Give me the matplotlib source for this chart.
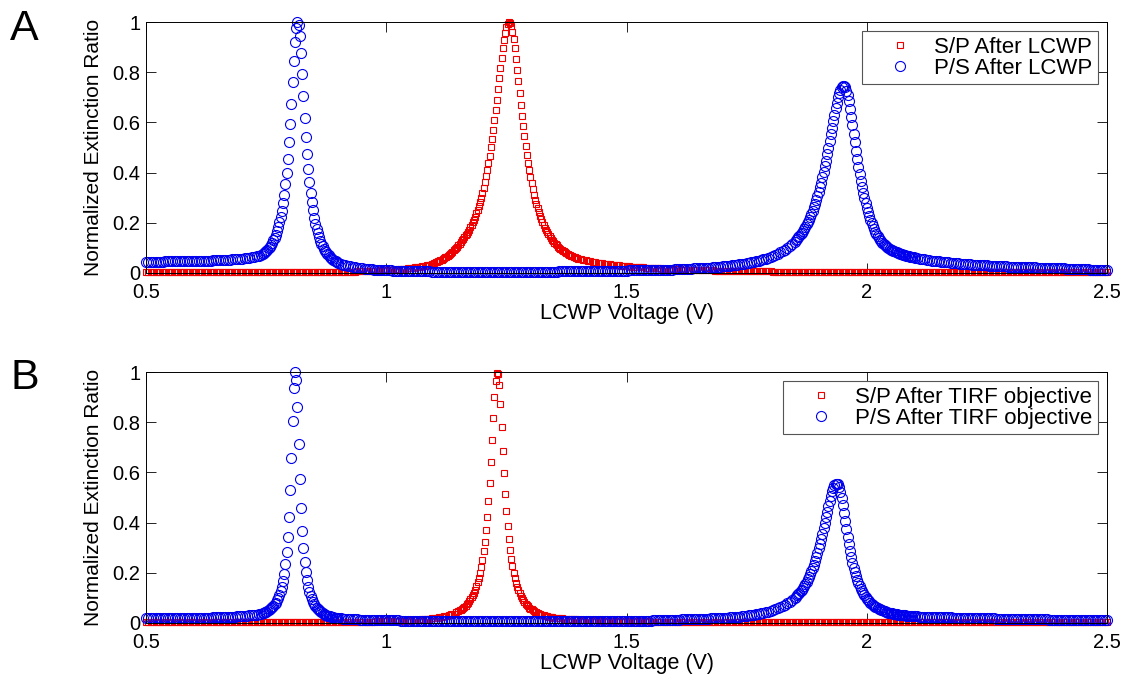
import numpy as np
import matplotlib
matplotlib.use("Agg")
import matplotlib.pyplot as plt

plt.rcParams['font.family'] = ['Liberation Sans', 'DejaVu Sans']

# ---------------- data ----------------
x_ticks = [0.5, 1, 1.5, 2, 2.5]
x_tick_labels = ['0.5', '1', '1.5', '2', '2.5']
y_ticks = [0, 0.2, 0.4, 0.6, 0.8, 1]
y_tick_labels = ['0', '0.2', '0.4', '0.6', '0.8', '1']

labels_a = ['S/P After LCWP', 'P/S After LCWP']
labels_b = ['S/P After TIRF objective', 'P/S After TIRF objective']

# voltage sweep segments (start V, step V)
ps_sweep = [(0.50, 0.005), (0.74, 0.0025), (0.90, 0.005), (1.85, 0.0025), (2.10, 0.005)]
sp_a_sweep = [(0.50, 0.005), (1.10, 0.0025), (1.40, 0.005)]
sp_b_sweep = [(0.50, 0.005), (1.15, 0.0025), (1.35, 0.005)]

# ---- Panel A, P/S after LCWP ----
ps_a_1 = [0.045, 0.045, 0.045, 0.045, 0.045, 0.045, 0.045, 0.045, 0.046, 0.046,
          0.046, 0.046, 0.046, 0.046, 0.047, 0.047, 0.047, 0.047, 0.047, 0.047,
          0.048, 0.048, 0.048, 0.048, 0.049, 0.049, 0.049, 0.049, 0.050, 0.050,
          0.051, 0.051, 0.052, 0.052, 0.053, 0.053, 0.054, 0.054, 0.055, 0.056,
          0.057, 0.058, 0.059, 0.060, 0.062, 0.064, 0.066, 0.069]
ps_a_2 = [0.072, 0.075, 0.079, 0.083, 0.088, 0.093, 0.099, 0.105, 0.113, 0.121,
          0.130, 0.141, 0.153, 0.167, 0.183, 0.202, 0.224, 0.248, 0.278, 0.312,
          0.353, 0.400, 0.456, 0.520, 0.593, 0.674, 0.761, 0.846, 0.922, 0.977,
          1.000, 0.988, 0.944, 0.875, 0.791, 0.704, 0.619, 0.542, 0.474, 0.414,
          0.363, 0.320, 0.282, 0.250, 0.220, 0.196, 0.176, 0.158, 0.142, 0.129,
          0.117, 0.106, 0.097, 0.089, 0.082, 0.076, 0.070, 0.065, 0.060, 0.056,
          0.052, 0.049, 0.046, 0.043]
ps_a_3 = [0.040, 0.036, 0.033, 0.030, 0.028, 0.026, 0.024, 0.022, 0.021, 0.019,
          0.018, 0.017, 0.016, 0.015, 0.014, 0.013, 0.013, 0.012, 0.012, 0.011,
          0.011, 0.010, 0.010, 0.009, 0.009, 0.009, 0.008, 0.008, 0.008, 0.007,
          0.007, 0.007, 0.007, 0.006, 0.006, 0.006, 0.006, 0.006, 0.006, 0.005,
          0.005, 0.005, 0.004, 0.004, 0.004, 0.004, 0.004, 0.004, 0.004, 0.004,
          0.004, 0.004, 0.004, 0.004, 0.004, 0.004, 0.004, 0.004, 0.004, 0.004,
          0.004, 0.004, 0.004, 0.004, 0.004, 0.004, 0.004, 0.004, 0.004, 0.004,
          0.004, 0.004, 0.004, 0.004, 0.004, 0.004, 0.004, 0.004, 0.004, 0.004,
          0.004, 0.004, 0.005, 0.005, 0.005, 0.005, 0.005, 0.005, 0.005, 0.005,
          0.005, 0.005, 0.006, 0.006, 0.006, 0.006, 0.006, 0.006, 0.006, 0.006,
          0.007, 0.007, 0.007, 0.007, 0.007, 0.007, 0.007, 0.007, 0.008, 0.008,
          0.008, 0.008, 0.008, 0.008, 0.008, 0.008, 0.009, 0.009, 0.009, 0.009,
          0.009, 0.010, 0.010, 0.010, 0.010, 0.010, 0.010, 0.010, 0.011, 0.011,
          0.011, 0.011, 0.012, 0.012, 0.012, 0.012, 0.013, 0.013, 0.013, 0.013,
          0.014, 0.014, 0.015, 0.015, 0.016, 0.016, 0.017, 0.017, 0.018, 0.018,
          0.019, 0.019, 0.020, 0.020, 0.021, 0.021, 0.022, 0.023, 0.024, 0.025,
          0.026, 0.027, 0.028, 0.029, 0.030, 0.031, 0.033, 0.034, 0.036, 0.037,
          0.039, 0.041, 0.043, 0.045, 0.047, 0.049, 0.052, 0.054, 0.057, 0.060,
          0.064, 0.068, 0.072, 0.077, 0.082, 0.087, 0.093, 0.100, 0.108, 0.116]
ps_a_4 = [0.125, 0.131, 0.136, 0.142, 0.148, 0.154, 0.161, 0.169, 0.176, 0.185,
          0.194, 0.203, 0.213, 0.224, 0.236, 0.248, 0.261, 0.275, 0.290, 0.306,
          0.323, 0.341, 0.360, 0.381, 0.402, 0.425, 0.448, 0.473, 0.499, 0.525,
          0.552, 0.579, 0.605, 0.631, 0.656, 0.679, 0.700, 0.717, 0.731, 0.741,
          0.745, 0.745, 0.740, 0.727, 0.708, 0.684, 0.655, 0.623, 0.589, 0.555,
          0.520, 0.487, 0.454, 0.424, 0.394, 0.367, 0.342, 0.319, 0.297, 0.277,
          0.259, 0.242, 0.226, 0.212, 0.199, 0.187, 0.176, 0.165, 0.156, 0.147,
          0.140, 0.133, 0.127, 0.121, 0.116, 0.111, 0.106, 0.103, 0.099, 0.095,
          0.093, 0.090, 0.088, 0.086, 0.084, 0.082, 0.080, 0.078, 0.076, 0.075,
          0.073, 0.072, 0.070, 0.069, 0.068, 0.066, 0.065, 0.064, 0.063, 0.062]
ps_a_5 = [0.060, 0.058, 0.057, 0.055, 0.054, 0.052, 0.051, 0.049, 0.048, 0.047,
          0.046, 0.045, 0.044, 0.043, 0.042, 0.041, 0.040, 0.039, 0.038, 0.037,
          0.036, 0.035, 0.035, 0.034, 0.033, 0.032, 0.032, 0.031, 0.031, 0.030,
          0.030, 0.029, 0.029, 0.028, 0.028, 0.027, 0.027, 0.026, 0.026, 0.025,
          0.025, 0.025, 0.025, 0.024, 0.024, 0.023, 0.023, 0.023, 0.023, 0.022,
          0.022, 0.021, 0.021, 0.021, 0.021, 0.020, 0.020, 0.019, 0.019, 0.019,
          0.019, 0.018, 0.018, 0.017, 0.017, 0.017, 0.017, 0.016, 0.016, 0.015,
          0.015, 0.014, 0.014, 0.013, 0.013, 0.012, 0.012, 0.011, 0.011, 0.010,
          0.010]

# ---- Panel A, S/P after LCWP ----
sp_a_1 = [0.002, 0.002, 0.002, 0.002, 0.002, 0.002, 0.002, 0.002, 0.002, 0.002,
          0.002, 0.002, 0.002, 0.002, 0.002, 0.002, 0.002, 0.002, 0.002, 0.002,
          0.002, 0.002, 0.002, 0.002, 0.002, 0.002, 0.002, 0.002, 0.002, 0.002,
          0.002, 0.002, 0.002, 0.002, 0.002, 0.002, 0.002, 0.002, 0.002, 0.002,
          0.002, 0.002, 0.002, 0.002, 0.002, 0.002, 0.002, 0.002, 0.002, 0.002,
          0.002, 0.002, 0.002, 0.002, 0.002, 0.002, 0.002, 0.002, 0.002, 0.002,
          0.002, 0.002, 0.002, 0.002, 0.002, 0.002, 0.002, 0.002, 0.002, 0.002,
          0.002, 0.002, 0.002, 0.002, 0.002, 0.002, 0.002, 0.002, 0.002, 0.002,
          0.004, 0.004, 0.004, 0.004, 0.005, 0.005, 0.005, 0.005, 0.006, 0.006,
          0.006, 0.006, 0.007, 0.007, 0.008, 0.008, 0.009, 0.009, 0.010, 0.010,
          0.011, 0.011, 0.012, 0.012, 0.013, 0.014, 0.015, 0.016, 0.017, 0.018,
          0.019, 0.020, 0.022, 0.023, 0.025, 0.026, 0.028, 0.030, 0.032, 0.036]
sp_a_2 = [0.041, 0.043, 0.045, 0.047, 0.049, 0.051, 0.053, 0.056, 0.059, 0.062,
          0.065, 0.068, 0.072, 0.076, 0.080, 0.085, 0.090, 0.095, 0.100, 0.105,
          0.111, 0.117, 0.123, 0.130, 0.137, 0.143, 0.150, 0.157, 0.165, 0.173,
          0.182, 0.192, 0.202, 0.213, 0.225, 0.238, 0.252, 0.267, 0.283, 0.300,
          0.319, 0.340, 0.362, 0.385, 0.411, 0.438, 0.468, 0.500, 0.534, 0.570,
          0.608, 0.648, 0.690, 0.732, 0.775, 0.817, 0.857, 0.895, 0.929, 0.958,
          0.980, 0.994, 1.000, 0.997, 0.984, 0.962, 0.931, 0.895, 0.854, 0.809,
          0.763, 0.717, 0.671, 0.627, 0.585, 0.545, 0.507, 0.472, 0.440, 0.410,
          0.382, 0.357, 0.333, 0.312, 0.292, 0.274, 0.257, 0.242, 0.227, 0.214,
          0.202, 0.191, 0.181, 0.171, 0.162, 0.154, 0.146, 0.139, 0.133, 0.126,
          0.121, 0.115, 0.110, 0.105, 0.101, 0.097, 0.093, 0.089, 0.086, 0.082,
          0.079, 0.076, 0.073, 0.071, 0.068, 0.066, 0.064, 0.062, 0.060, 0.058]
sp_a_3 = [0.056, 0.054, 0.052, 0.050, 0.048, 0.046, 0.044, 0.042, 0.041, 0.039,
          0.038, 0.036, 0.035, 0.034, 0.033, 0.032, 0.031, 0.030, 0.029, 0.028,
          0.027, 0.026, 0.025, 0.025, 0.024, 0.023, 0.022, 0.022, 0.021, 0.020,
          0.020, 0.019, 0.019, 0.018, 0.018, 0.017, 0.017, 0.016, 0.016, 0.015,
          0.015, 0.014, 0.014, 0.013, 0.013, 0.013, 0.013, 0.012, 0.012, 0.011,
          0.011, 0.011, 0.011, 0.010, 0.010, 0.010, 0.010, 0.009, 0.009, 0.009,
          0.009, 0.008, 0.008, 0.008, 0.008, 0.008, 0.008, 0.007, 0.007, 0.007,
          0.007, 0.007, 0.007, 0.006, 0.006, 0.006, 0.006, 0.006, 0.006, 0.006,
          0.006, 0.005, 0.005, 0.005, 0.005, 0.005, 0.005, 0.005, 0.005, 0.005,
          0.005, 0.005, 0.005, 0.005, 0.005, 0.005, 0.005, 0.005, 0.005, 0.005,
          0.005, 0.005, 0.004, 0.004, 0.004, 0.004, 0.004, 0.004, 0.004, 0.004,
          0.004, 0.004, 0.004, 0.004, 0.004, 0.004, 0.004, 0.004, 0.004, 0.004,
          0.004, 0.004, 0.004, 0.004, 0.004, 0.004, 0.004, 0.004, 0.004, 0.004,
          0.004, 0.004, 0.004, 0.004, 0.004, 0.004, 0.004, 0.004, 0.004, 0.004,
          0.004, 0.004, 0.003, 0.003, 0.003, 0.003, 0.003, 0.003, 0.003, 0.003,
          0.003, 0.003, 0.003, 0.003, 0.003, 0.003, 0.003, 0.003, 0.003, 0.003,
          0.003, 0.003, 0.003, 0.003, 0.003, 0.003, 0.003, 0.003, 0.003, 0.003,
          0.003, 0.003, 0.003, 0.003, 0.003, 0.003, 0.003, 0.003, 0.003, 0.003,
          0.003, 0.003, 0.003, 0.003, 0.003, 0.003, 0.003, 0.003, 0.003, 0.003,
          0.003, 0.003, 0.003, 0.003, 0.003, 0.003, 0.003, 0.003, 0.003, 0.003,
          0.003, 0.003, 0.003, 0.003, 0.003, 0.003, 0.003, 0.003, 0.003, 0.003,
          0.003, 0.003, 0.003, 0.003, 0.003, 0.003, 0.003, 0.003, 0.003, 0.003,
          0.003]

# ---- Panel B, P/S after TIRF objective ----
ps_b_1 = [0.020, 0.020, 0.020, 0.020, 0.020, 0.020, 0.020, 0.020, 0.020, 0.020,
          0.020, 0.020, 0.020, 0.020, 0.020, 0.020, 0.020, 0.020, 0.020, 0.020,
          0.020, 0.020, 0.020, 0.020, 0.021, 0.021, 0.021, 0.021, 0.022, 0.022,
          0.022, 0.022, 0.023, 0.023, 0.024, 0.024, 0.025, 0.025, 0.026, 0.026,
          0.027, 0.028, 0.029, 0.030, 0.031, 0.032, 0.033, 0.035]
ps_b_2 = [0.037, 0.039, 0.040, 0.043, 0.045, 0.048, 0.051, 0.054, 0.058, 0.063,
          0.068, 0.074, 0.081, 0.090, 0.100, 0.112, 0.127, 0.145, 0.168, 0.197,
          0.234, 0.281, 0.343, 0.424, 0.530, 0.659, 0.805, 0.935, 1.000, 0.970,
          0.859, 0.714, 0.575, 0.459, 0.368, 0.298, 0.244, 0.203, 0.171, 0.145,
          0.125, 0.109, 0.095, 0.084, 0.075, 0.067, 0.060, 0.055, 0.050, 0.046,
          0.042, 0.039, 0.036, 0.033, 0.031, 0.029, 0.027, 0.026, 0.024, 0.023,
          0.022, 0.021, 0.020, 0.019]
ps_b_3 = [0.018, 0.018, 0.017, 0.016, 0.016, 0.015, 0.015, 0.014, 0.014, 0.013,
          0.013, 0.012, 0.012, 0.012, 0.012, 0.011, 0.011, 0.011, 0.011, 0.010,
          0.010, 0.010, 0.010, 0.010, 0.010, 0.010, 0.009, 0.009, 0.009, 0.009,
          0.009, 0.009, 0.009, 0.009, 0.008, 0.008, 0.008, 0.008, 0.008, 0.008,
          0.008, 0.008, 0.008, 0.008, 0.007, 0.007, 0.007, 0.007, 0.007, 0.007,
          0.007, 0.007, 0.007, 0.007, 0.007, 0.007, 0.007, 0.007, 0.007, 0.007,
          0.006, 0.006, 0.006, 0.006, 0.006, 0.006, 0.006, 0.006, 0.006, 0.006,
          0.006, 0.006, 0.006, 0.006, 0.006, 0.006, 0.006, 0.006, 0.006, 0.006,
          0.006, 0.006, 0.006, 0.006, 0.006, 0.006, 0.006, 0.006, 0.006, 0.006,
          0.006, 0.006, 0.006, 0.006, 0.006, 0.006, 0.006, 0.006, 0.006, 0.006,
          0.006, 0.006, 0.006, 0.006, 0.006, 0.006, 0.006, 0.006, 0.006, 0.006,
          0.007, 0.007, 0.007, 0.007, 0.007, 0.007, 0.007, 0.007, 0.007, 0.007,
          0.007, 0.007, 0.008, 0.008, 0.008, 0.008, 0.008, 0.009, 0.009, 0.009,
          0.009, 0.010, 0.010, 0.010, 0.010, 0.011, 0.011, 0.012, 0.012, 0.012,
          0.013, 0.013, 0.013, 0.014, 0.014, 0.014, 0.014, 0.015, 0.015, 0.016,
          0.016, 0.016, 0.016, 0.017, 0.017, 0.018, 0.018, 0.019, 0.019, 0.020,
          0.020, 0.021, 0.021, 0.022, 0.023, 0.023, 0.024, 0.025, 0.026, 0.027,
          0.029, 0.030, 0.032, 0.033, 0.035, 0.036, 0.038, 0.040, 0.043, 0.045,
          0.048, 0.051, 0.054, 0.058, 0.062, 0.067, 0.072, 0.078, 0.084, 0.092]
ps_b_4 = [0.100, 0.105, 0.110, 0.115, 0.121, 0.127, 0.133, 0.140, 0.148, 0.156,
          0.164, 0.174, 0.184, 0.195, 0.206, 0.219, 0.232, 0.247, 0.262, 0.279,
          0.297, 0.315, 0.335, 0.356, 0.377, 0.400, 0.422, 0.444, 0.466, 0.487,
          0.507, 0.524, 0.538, 0.549, 0.555, 0.555, 0.552, 0.541, 0.522, 0.498,
          0.469, 0.438, 0.406, 0.374, 0.343, 0.314, 0.288, 0.263, 0.241, 0.220,
          0.202, 0.187, 0.172, 0.159, 0.147, 0.136, 0.127, 0.118, 0.110, 0.103,
          0.097, 0.091, 0.086, 0.081, 0.076, 0.072, 0.068, 0.065, 0.062, 0.059,
          0.056, 0.054, 0.052, 0.050, 0.048, 0.046, 0.044, 0.043, 0.041, 0.040,
          0.039, 0.038, 0.037, 0.036, 0.035, 0.034, 0.033, 0.033, 0.032, 0.031,
          0.031, 0.030, 0.030, 0.029, 0.029, 0.028, 0.028, 0.027, 0.027, 0.026]
ps_b_5 = [0.026, 0.026, 0.025, 0.025, 0.025, 0.024, 0.024, 0.024, 0.024, 0.023,
          0.023, 0.023, 0.022, 0.022, 0.022, 0.022, 0.021, 0.021, 0.021, 0.021,
          0.020, 0.020, 0.020, 0.020, 0.019, 0.019, 0.019, 0.019, 0.018, 0.018,
          0.018, 0.018, 0.018, 0.018, 0.017, 0.017, 0.017, 0.017, 0.017, 0.017,
          0.016, 0.016, 0.016, 0.016, 0.015, 0.015, 0.015, 0.015, 0.015, 0.015,
          0.014, 0.014, 0.014, 0.014, 0.014, 0.014, 0.013, 0.013, 0.013, 0.013,
          0.013, 0.013, 0.013, 0.013, 0.012, 0.012, 0.012, 0.012, 0.012, 0.012,
          0.011, 0.011, 0.011, 0.011, 0.011, 0.011, 0.010, 0.010, 0.010, 0.010,
          0.010]

# ---- Panel B, S/P after TIRF objective ----
sp_b_1 = [0.002, 0.002, 0.002, 0.002, 0.002, 0.002, 0.002, 0.002, 0.002, 0.002,
          0.002, 0.002, 0.002, 0.002, 0.002, 0.002, 0.002, 0.002, 0.002, 0.002,
          0.002, 0.002, 0.002, 0.002, 0.002, 0.002, 0.002, 0.002, 0.002, 0.002,
          0.002, 0.002, 0.002, 0.002, 0.002, 0.002, 0.002, 0.002, 0.002, 0.002,
          0.002, 0.002, 0.002, 0.002, 0.002, 0.002, 0.002, 0.002, 0.002, 0.002,
          0.002, 0.002, 0.002, 0.002, 0.002, 0.002, 0.002, 0.002, 0.002, 0.002,
          0.002, 0.002, 0.002, 0.002, 0.002, 0.002, 0.002, 0.002, 0.002, 0.002,
          0.002, 0.002, 0.002, 0.002, 0.002, 0.002, 0.002, 0.002, 0.002, 0.002,
          0.003, 0.003, 0.003, 0.003, 0.003, 0.003, 0.004, 0.004, 0.004, 0.004,
          0.004, 0.004, 0.005, 0.005, 0.005, 0.005, 0.006, 0.006, 0.006, 0.006,
          0.007, 0.007, 0.007, 0.007, 0.008, 0.008, 0.008, 0.008, 0.009, 0.009,
          0.010, 0.010, 0.011, 0.012, 0.013, 0.014, 0.015, 0.016, 0.017, 0.018,
          0.019, 0.020, 0.022, 0.024, 0.026, 0.028, 0.031, 0.034, 0.037, 0.042]
sp_b_2 = [0.047, 0.050, 0.053, 0.057, 0.060, 0.065, 0.069, 0.074, 0.080, 0.087,
          0.094, 0.102, 0.111, 0.121, 0.133, 0.146, 0.162, 0.179, 0.200, 0.224,
          0.252, 0.285, 0.324, 0.370, 0.424, 0.486, 0.559, 0.640, 0.728, 0.818,
          0.900, 0.964, 0.997, 0.992, 0.948, 0.872, 0.781, 0.686, 0.596, 0.515,
          0.445, 0.385, 0.334, 0.292, 0.256, 0.226, 0.200, 0.178, 0.160, 0.144,
          0.130, 0.118, 0.107, 0.098, 0.090, 0.083, 0.077, 0.071, 0.066, 0.061,
          0.057, 0.054, 0.050, 0.047, 0.044, 0.042, 0.039, 0.037, 0.035, 0.033,
          0.032, 0.030, 0.029, 0.027, 0.026, 0.025, 0.024, 0.023, 0.022, 0.021]
sp_b_3 = [0.020, 0.019, 0.018, 0.018, 0.017, 0.016, 0.016, 0.015, 0.014, 0.014,
          0.013, 0.013, 0.012, 0.012, 0.011, 0.011, 0.011, 0.010, 0.010, 0.010,
          0.009, 0.009, 0.009, 0.008, 0.008, 0.008, 0.008, 0.008, 0.007, 0.007,
          0.007, 0.007, 0.007, 0.007, 0.006, 0.006, 0.006, 0.006, 0.006, 0.006,
          0.005, 0.005, 0.005, 0.005, 0.005, 0.005, 0.005, 0.005, 0.005, 0.005,
          0.005, 0.005, 0.005, 0.005, 0.005, 0.005, 0.005, 0.005, 0.005, 0.005,
          0.005, 0.005, 0.005, 0.005, 0.005, 0.005, 0.005, 0.005, 0.005, 0.005,
          0.004, 0.004, 0.004, 0.004, 0.004, 0.004, 0.004, 0.004, 0.004, 0.004,
          0.004, 0.004, 0.004, 0.004, 0.004, 0.004, 0.004, 0.004, 0.004, 0.004,
          0.004, 0.004, 0.004, 0.004, 0.004, 0.004, 0.004, 0.004, 0.004, 0.004,
          0.004, 0.004, 0.004, 0.004, 0.004, 0.004, 0.004, 0.004, 0.004, 0.004,
          0.004, 0.004, 0.004, 0.004, 0.004, 0.004, 0.004, 0.004, 0.004, 0.004,
          0.004, 0.004, 0.004, 0.004, 0.004, 0.004, 0.004, 0.004, 0.004, 0.004,
          0.003, 0.003, 0.003, 0.003, 0.003, 0.003, 0.003, 0.003, 0.003, 0.003,
          0.003, 0.003, 0.003, 0.003, 0.003, 0.003, 0.003, 0.003, 0.003, 0.003,
          0.003, 0.003, 0.003, 0.003, 0.003, 0.003, 0.003, 0.003, 0.003, 0.003,
          0.003, 0.003, 0.003, 0.003, 0.003, 0.003, 0.003, 0.003, 0.003, 0.003,
          0.003, 0.003, 0.003, 0.003, 0.003, 0.003, 0.003, 0.003, 0.003, 0.003,
          0.003, 0.003, 0.003, 0.003, 0.003, 0.003, 0.003, 0.003, 0.003, 0.003,
          0.003, 0.003, 0.003, 0.003, 0.003, 0.003, 0.003, 0.003, 0.003, 0.003,
          0.003, 0.003, 0.003, 0.003, 0.003, 0.003, 0.003, 0.003, 0.003, 0.003,
          0.003, 0.003, 0.003, 0.003, 0.003, 0.003, 0.003, 0.003, 0.003, 0.003,
          0.003, 0.003, 0.003, 0.003, 0.003, 0.003, 0.003, 0.003, 0.003, 0.003,
          0.003]


def build(sweep, parts):
    xs, ys = [], []
    for (start, step), vals in zip(sweep, parts):
        xs.append(start + step * np.arange(len(vals)))
        ys.append(np.asarray(vals, dtype=float))
    return np.concatenate(xs), np.concatenate(ys)


panel_a = (build(sp_a_sweep, [sp_a_1, sp_a_2, sp_a_3]),
           build(ps_sweep, [ps_a_1, ps_a_2, ps_a_3, ps_a_4, ps_a_5]),
           labels_a)
panel_b = (build(sp_b_sweep, [sp_b_1, sp_b_2, sp_b_3]),
           build(ps_sweep, [ps_b_1, ps_b_2, ps_b_3, ps_b_4, ps_b_5]),
           labels_b)

# ---------------- figure ----------------
W, H = 1128, 683
fig = plt.figure(figsize=(W / 100, H / 100), dpi=100)
ax_a = fig.add_axes([146 / W, 1 - 273 / H, 961 / W, 251 / H])
ax_b = fig.add_axes([146 / W, 1 - 623 / H, 961 / W, 251 / H])

for ax, ((sx, sy), (px, py), labels) in zip([ax_a, ax_b], [panel_a, panel_b]):
    ax.plot(sx, sy, ls='none', marker='s', ms=4.8, mfc='none', mec='#ee0000',
            mew=0.8, clip_on=False, label=labels[0])
    ax.plot(px, py, ls='none', marker='o', ms=7.2, mfc='none', mec='#0000ee',
            mew=0.8, clip_on=False, label=labels[1])
    ax.set_xlim(0.5, 2.5)
    ax.set_ylim(0, 1)
    ax.set_xticks(x_ticks)
    ax.set_xticklabels(x_tick_labels)
    ax.set_yticks(y_ticks)
    ax.set_yticklabels(y_tick_labels)
    ax.tick_params(direction='in', length=7, width=0.6, top=True, right=True,
                   labelsize=14.5, colors='black')
    ax.tick_params(axis='x', pad=7)
    ax.tick_params(axis='y', pad=4)
    for sp in ax.spines.values():
        sp.set_linewidth(0.7)
        sp.set_color('black')
    ax.set_xlabel('LCWP Voltage (V)', fontsize=15.5, labelpad=1)
    ax.set_ylabel('Normalized Extinction Ratio', fontsize=15, labelpad=7)
    leg = ax.legend(loc='upper right', bbox_to_anchor=(1 - 9 / 961, 1 - 9 / 251),
                    borderaxespad=0, fontsize=16, handlelength=2.9,
                    handletextpad=0.1, borderpad=0.25, labelspacing=0.0,
                    fancybox=False, edgecolor='#555555', framealpha=1,
                    numpoints=1)
    leg.get_frame().set_linewidth(0.8)

fig.text(10 / W, 1 - 40 / H, 'A', fontsize=31, va='baseline', ha='left')
fig.text(10 / W, 1 - 389 / H, 'B', fontsize=31, va='baseline', ha='left')

fig.savefig('out.png', dpi=100)
